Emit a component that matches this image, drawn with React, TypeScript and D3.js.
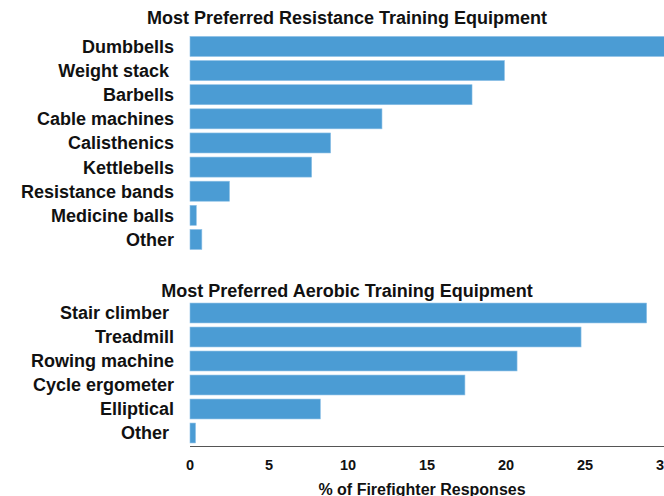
import React, { useEffect, useRef } from 'react';
import * as d3 from 'd3';

const resistanceCategories = ['Dumbbells', 'Weight stack\u00a0', 'Barbells', 'Cable machines', 'Calisthenics', 'Kettlebells', 'Resistance bands', 'Medicine balls', 'Other'];
const resistanceValues = [33, 19.9, 17.85, 12.15, 8.9, 7.7, 2.5, 0.4, 0.75];

const aerobicCategories = ['Stair climber\u00a0', 'Treadmill', 'Rowing machine', 'Cycle ergometer', 'Elliptical', 'Other\u00a0'];
const aerobicValues = [28.9, 24.75, 20.7, 17.4, 8.25, 0.35];

const xTicks = [0, 5, 10, 15, 20, 25, 30];

const resistanceTitle = 'Most Preferred Resistance Training Equipment';
const aerobicTitle = 'Most Preferred Aerobic Training Equipment';
const xTitle = '% of Firefighter Responses';

export default function App() {
    const ref = useRef<SVGSVGElement>(null);
    const width = 664;
    const height = 496;
    const font = '"Liberation Sans", Arial, sans-serif';
    const barColor = '#4b9cd4';

    useEffect(() => {
        const svg = d3.select(ref.current);
        svg.selectAll('*').remove();

        const x = d3.scaleLinear().domain([0, 30]).range([190, 664]);

        const drawPanel = (cats: string[], vals: number[], y0: number, step: number, title: string, titleY: number) => {
            const y = d3.scaleBand()
                .domain(cats)
                .range([y0, y0 + cats.length * step])
                .paddingInner(0.17)
                .paddingOuter(0.085);

            svg.append('text')
                .attr('x', 347)
                .attr('y', titleY)
                .attr('text-anchor', 'middle')
                .style('font', `bold 18px ${font}`)
                .attr('fill', '#111')
                .text(title);

            svg.append('g').selectAll('rect')
                .data(cats)
                .enter().append('rect')
                .attr('x', x(0))
                .attr('y', d => y(d)!)
                .attr('width', (d, i) => x(vals[i]) - x(0))
                .attr('height', y.bandwidth())
                .attr('fill', barColor)
                .attr('stroke', '#8ec1e6')
                .attr('stroke-width', 0.6);

            svg.append('g').selectAll('text')
                .data(cats)
                .enter().append('text')
                .attr('x', 174)
                .attr('y', d => y(d)! + y.bandwidth() / 2)
                .attr('dy', '0.36em')
                .attr('text-anchor', 'end')
                .style('font', `bold 18px ${font}`)
                .style('white-space', 'pre')
                .attr('fill', '#111')
                .text(d => d);
        };

        drawPanel(resistanceCategories, resistanceValues, 34.4, 24.125, resistanceTitle, 24);
        drawPanel(aerobicCategories, aerobicValues, 301, 24, aerobicTitle, 297);

        // x axis
        svg.append('line')
            .attr('x1', x(0))
            .attr('x2', x(30))
            .attr('y1', 446.5)
            .attr('y2', 446.5)
            .attr('stroke', '#555')
            .attr('stroke-width', 1.2);

        svg.append('g').selectAll('text')
            .data(xTicks)
            .enter().append('text')
            .attr('x', d => x(d))
            .attr('y', 470)
            .attr('text-anchor', 'middle')
            .style('font', `bold 14.5px ${font}`)
            .attr('fill', '#111')
            .text(d => d);

        svg.append('text')
            .attr('x', 422)
            .attr('y', 495)
            .attr('text-anchor', 'middle')
            .style('font', `bold 16px ${font}`)
            .attr('fill', '#111')
            .text(xTitle);
    }, []);

    return <svg ref={ref} width={width} height={height} style={{ position: 'absolute', left: 0, top: 0 }}></svg>;
}
